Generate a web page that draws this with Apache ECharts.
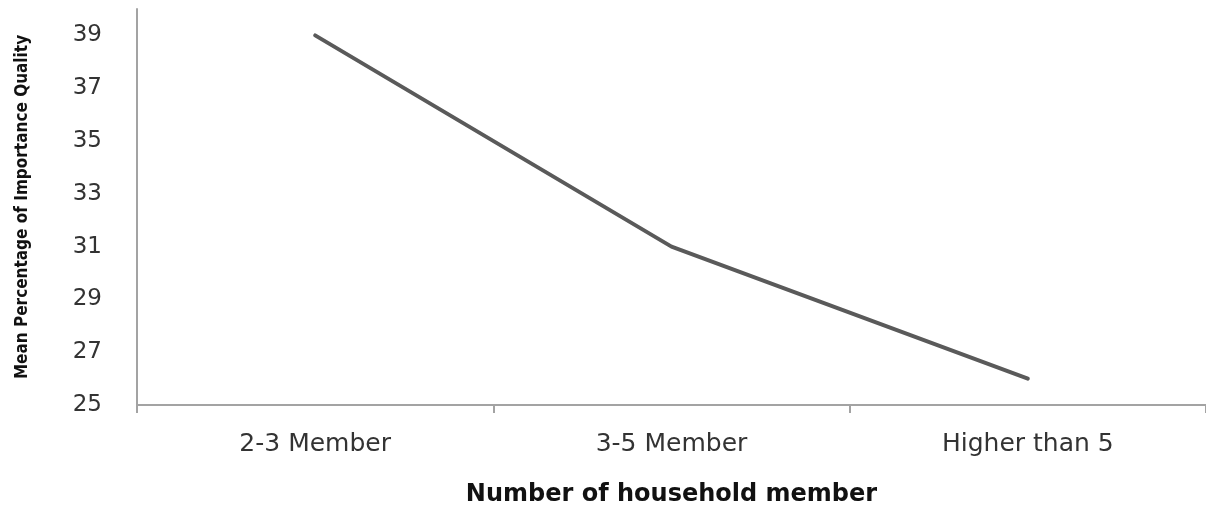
<!DOCTYPE html>
<html>
<head>
<meta charset="utf-8">
<script src="https://cdn.jsdelivr.net/npm/echarts@6/dist/echarts.min.js"></script>
<style>
  html, body { margin: 0; padding: 0; background: #fff; }
  #chart { width: 1206px; height: 512px; }
</style>
</head>
<body>
<div id="chart"></div>
<script>
// Household size groups and the mean importance-of-quality percentage for each
const categories = ['2-3 Member', '3-5 Member', 'Higher than 5'];
const meanQuality = [39, 31, 26];

const yMin = 25;
const yMax = 40;
const yStep = 2;

const axisGray = '#a3a3a3';
const chart = echarts.init(document.getElementById('chart'));

chart.setOption({
  animation: false,
  backgroundColor: '#ffffff',
  grid: { left: 137, right: 0, top: 9, bottom: 107, containLabel: false },
  xAxis: {
    type: 'category',
    data: categories,
    boundaryGap: true,
    axisLine: { show: true, lineStyle: { color: axisGray, width: 2 } },
    axisTick: { show: true, length: 8, alignWithLabel: false, lineStyle: { color: axisGray, width: 2 } },
    axisLabel: {
      color: '#333333',
      fontFamily: 'DejaVu Sans',
      fontSize: 25,
      margin: 27
    },
    name: 'Number of household member',
    nameLocation: 'middle',
    nameGap: 78,
    nameTextStyle: {
      color: '#111111',
      fontFamily: 'DejaVu Sans',
      fontWeight: 'bold',
      fontSize: 24
    }
  },
  yAxis: {
    type: 'value',
    min: yMin,
    max: yMax,
    interval: yStep,
    splitLine: { show: false },
    axisLine: { show: true, lineStyle: { color: axisGray, width: 2 } },
    axisTick: { show: false },
    axisLabel: {
      color: '#333333',
      fontFamily: 'DejaVu Sans',
      fontSize: 23,
      margin: 35,
      showMaxLabel: false
    },
    name: 'Mean Percentage of Importance Quality',
    nameLocation: 'middle',
    nameGap: 106,
    nameTextStyle: {
      color: '#111111',
      fontFamily: '"Liberation Sans Narrow", "DejaVu Sans Condensed", sans-serif',
      fontWeight: 'bold',
      fontSize: 17
    }
  },
  series: [{
    type: 'line',
    data: meanQuality,
    showSymbol: false,
    symbol: 'none',
    lineStyle: { color: '#5a5a5a', width: 4, cap: 'round', join: 'round' }
  }]
});
</script>
</body>
</html>
